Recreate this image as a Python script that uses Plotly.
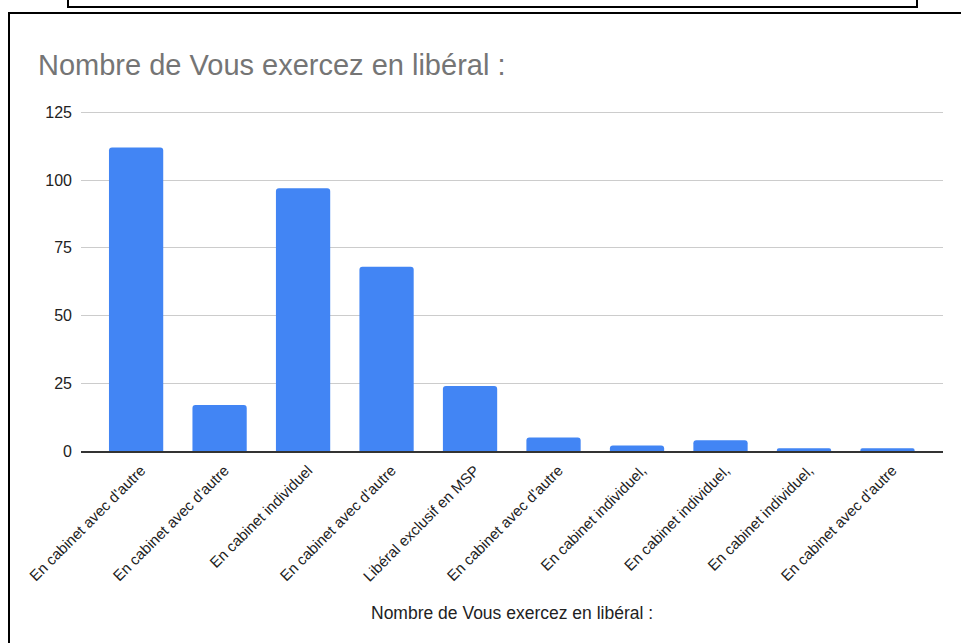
import plotly.graph_objects as go

categories = [
    "En cabinet avec d'autre",
    "En cabinet avec d'autre",
    "En cabinet individuel",
    "En cabinet avec d'autre",
    "Libéral exclusif en MSP",
    "En cabinet avec d'autre",
    "En cabinet individuel,",
    "En cabinet individuel,",
    "En cabinet individuel,",
    "En cabinet avec d'autre",
]
values = [112, 17, 97, 68, 24, 5, 2, 4, 1, 1]
y_ticks = [0, 25, 50, 75, 100, 125]
title_text = "Nombre de Vous exercez en libéral :"
axis_title = "Nombre de Vous exercez en libéral :"

W, H = 961, 643
L, R, T, B = 81, 18, 109, 192
PW, PH = W - L - R, H - T - B
Y_PER_UNIT = (451 - 112.3) / 125.0
Y_MAX = PH / Y_PER_UNIT

def px(x):
    return (x - L) / PW

def py(y):
    return (H - B - y) / PH

idx = list(range(len(categories)))

fig = go.Figure(
    go.Bar(
        x=idx,
        y=values,
        width=0.65,
        marker=dict(color="#4285F4", cornerradius=3, line=dict(width=0)),
        hoverinfo="y",
    )
)

FONT = "Liberation Sans, Arial, sans-serif"

fig.update_layout(
    width=W,
    height=H,
    margin=dict(l=L, r=R, t=T, b=B, pad=0),
    paper_bgcolor="white",
    plot_bgcolor="white",
    showlegend=False,
    font=dict(family=FONT, color="#222222"),
    title=dict(
        text=title_text,
        font=dict(family=FONT, size=29, color="#757575"),
        xref="container",
        yref="container",
        x=38 / W,
        xanchor="left",
        y=1 - 65 / H,
        yanchor="middle",
    ),
    xaxis=dict(
        tickmode="array",
        tickvals=idx,
        ticktext=categories,
        tickangle=-45,
        tickfont=dict(family=FONT, size=15, color="#222222"),
        ticklabelshift=5,
        ticklabelstandoff=3,
        range=[-0.66, 9.665],
        showgrid=False,
        showline=True,
        linecolor="#333333",
        linewidth=1.5,
        ticks="",
        automargin=False,
    ),
    yaxis=dict(
        range=[0, Y_MAX],
        tickmode="array",
        tickvals=y_ticks,
        tickfont=dict(family=FONT, size=16, color="#222222"),
        showgrid=True,
        gridcolor="#cccccc",
        gridwidth=1,
        zeroline=False,
        showline=False,
        ticks="",
        ticklabelstandoff=8,
        automargin=False,
    ),
    annotations=[
        dict(
            text=axis_title, xref="paper", yref="paper",
            x=0.5, y=py(613), xanchor="center", yanchor="middle",
            showarrow=False, font=dict(family=FONT, size=17.5, color="#222222"),
        )
    ],
    shapes=[
        dict(
            type="rect", xref="paper", yref="paper",
            x0=px(9), x1=px(975), y0=py(13), y1=py(660),
            line=dict(color="black", width=2), fillcolor="rgba(0,0,0,0)",
        ),
        dict(
            type="rect", xref="paper", yref="paper",
            x0=px(68), x1=px(917), y0=py(-20), y1=py(7),
            line=dict(color="black", width=2), fillcolor="rgba(0,0,0,0)",
        ),
    ],
)

fig.write_html(
    "out.html",
    config={"displayModeBar": False},
    post_script="document.body.style.margin='0';document.body.style.overflow='hidden';",
)
